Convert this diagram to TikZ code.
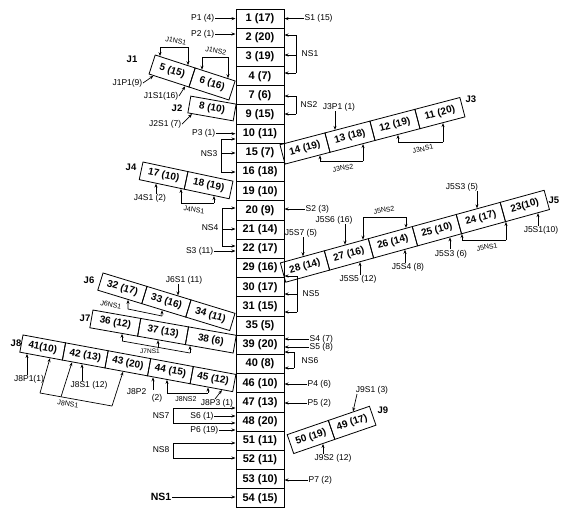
\documentclass[tikz,border=0pt]{standalone}
\usepackage{fontspec}
\setmainfont{Liberation Sans}
\usetikzlibrary{arrows.meta,calc}
\newcommand\varr[4]{\coordinate (vtmp) at (intersection of #1.#4 west--#1.#4 east and #2,0--#2,600);\draw[arr] (vtmp |- 0,#3) -- (vtmp);}
\begin{document}
\begin{tikzpicture}[x=1pt,y=-1pt,
  cbox/.style={draw,line width=1pt,minimum width=48pt,minimum height=19.19pt,inner sep=0pt,font=\fontsize{11}{12}\selectfont\bfseries},
  jbox/.style={draw,line width=0.8pt,inner sep=0pt,font=\fontsize{10}{11}\selectfont\bfseries},
  lbl/.style={inner sep=0.5pt,font=\fontsize{8.5}{9}\selectfont},
  slbl/.style={inner sep=0.5pt,font=\fontsize{7}{8}\selectfont},
  jl/.style={inner sep=0.5pt,font=\fontsize{9.5}{10}\selectfont\bfseries},
  arr/.style={-{Stealth[length=4pt,width=3pt]},line width=0.7pt},
  ln/.style={line width=0.7pt},
  sA/.style={jbox,rotate=-18,minimum width=42pt,minimum height=20pt},
  sB/.style={jbox,rotate=-10,minimum width=46pt,minimum height=17pt},
  sC/.style={jbox,rotate=14.7,minimum width=46.5pt,minimum height=20pt},
  sD/.style={jbox,rotate=-12,minimum width=46pt,minimum height=18pt},
  sE/.style={jbox,rotate=15.4,minimum width=45.6pt,minimum height=20pt},
  sF/.style={jbox,rotate=-17,minimum width=46pt,minimum height=18pt},
  sG/.style={jbox,rotate=-10,minimum width=48.5pt,minimum height=18pt},
  sH/.style={jbox,rotate=-10.5,minimum width=43.3pt,minimum height=17.5pt},
  sI/.style={jbox,rotate=19,minimum width=43.5pt,minimum height=20pt}]
\useasboundingbox (0,0) rectangle (561,512);
\fill[white] (0,0) rectangle (561,512);
% central column
\foreach \n/\t [count=\i from 0] in {1/1 (17),2/2 (20),3/3 (19),4/4 (7),7/7 (6),9/9 (15),10/10 (11),15/15 (7),16/16 (18),19/19 (10),20/20 (9),21/21 (14),22/22 (17),29/29 (16),30/30 (17),31/31 (15),35/35 (5),39/39 (20),40/40 (8),46/46 (10),47/47 (13),48/48 (20),51/51 (11),52/52 (11),53/53 (10),54/54 (15)}
  \node[cbox] (c\n) at (260,{18.6+19.19*\i}) {\t};
% strips
\node[sA] (b5) at (172.1,71) {5 (15)};
\node[sA] (b6) at ($(b5)+(-18:42pt)$) {6 (16)};
\node[sB] (b8) at (212,108.5) {8 (10)};
\node[sC] (b14) at (305,148.5) {14 (19)};
\node[sC] (b13) at ($(b14)+(14.7:46.5pt)$) {13 (18)};
\node[sC] (b12) at ($(b13)+(14.7:46.5pt)$) {12 (19)};
\node[sC] (b11) at ($(b12)+(14.7:46.5pt)$) {11 (20)};
\node[sD] (b17) at (163.6,175.6) {17 (10)};
\node[sD] (b18) at ($(b17)+(-12:46pt)$) {18 (19)};
\node[sE] (b28) at (305,266.5) {28 (14)};
\node[sE] (b27) at ($(b28)+(15.4:45.6pt)$) {27 (16)};
\node[sE] (b26) at ($(b27)+(15.4:45.6pt)$) {26 (14)};
\node[sE] (b25) at ($(b26)+(15.4:45.6pt)$) {25 (10)};
\node[sE] (b24) at ($(b25)+(15.4:45.6pt)$) {24 (17)};
\node[sE] (b23) at ($(b24)+(15.4:45.6pt)$) {23(10)};
\node[sF] (b32) at (122.4,288.3) {32 (17)};
\node[sF] (b33) at ($(b32)+(-17:46pt)$) {33 (16)};
\node[sF] (b34) at ($(b33)+(-17:46pt)$) {34 (11)};
\node[sG] (b36) at (115.3,323.1) {36 (12)};
\node[sG] (b37) at ($(b36)+(-10:48.5pt)$) {37 (13)};
\node[sG] (b38) at ($(b37)+(-10:48.5pt)$) {38 (6)};
\node[sH] (b41) at (42.7,347.5) {41(10)};
\node[sH] (b42) at ($(b41)+(-10.5:43.3pt)$) {42 (13)};
\node[sH] (b43) at ($(b42)+(-10.5:43.3pt)$) {43 (20)};
\node[sH] (b44) at ($(b43)+(-10.5:43.3pt)$) {44 (15)};
\node[sH] (b45) at ($(b44)+(-10.5:43.3pt)$) {45 (12)};
\node[sI] (b50) at (311,437) {50 (19)};
\node[sI] (b49) at ($(b50)+(19:43.5pt)$) {49 (17)};
% group labels
\node[jl,anchor=east] (lJ1) at (138,59) {J1};
\node[jl,anchor=east] (lJ2) at (183,108) {J2};
\node[jl,anchor=west] (lJ3) at (465,99) {J3};
\node[jl,anchor=east] (lJ4) at (137,167) {J4};
\node[jl,anchor=west] (lJ5) at (548,200) {J5};
\node[jl,anchor=east] (lJ6) at (95,280) {J6};
\node[jl,anchor=east] (lJ7) at (91,318) {J7};
\node[jl,anchor=east] (lJ8) at (22,343) {J8};
\node[jl,anchor=west] (lJ9) at (377,410) {J9};
% left inputs
\node[lbl,anchor=east] (p1) at (215,18.6) {P1 (4)};
\draw[arr] (p1.east) -- (c1.west |- p1.east);
\node[lbl,anchor=east] (p2) at (215,34) {P2 (1)};
\draw[arr] (p2.east) -- (c2.west |- p2.east);
\node[lbl,anchor=east] (p3) at (216,133.7) {P3 (1)};
\draw[arr] (p3.east) -- (c10.west |- p3.east);
\node[lbl,anchor=east] (s3) at (214,251) {S3 (11)};
\draw[arr] (s3.east) -- (c22.west |- s3.east);
\node[lbl,anchor=east] (ns3) at (218,154) {NS3};
\draw[ln] (221,139) -- (221,172);
\draw[arr] (221,139) -- (c10.west |- 0,139);
\draw[arr] (221,153) -- (c15.west |- 0,153);
\draw[arr] (221,172) -- (c16.west |- 0,172);
\node[lbl,anchor=east] (ns4) at (219,228) {NS4};
\draw[ln] (222,208) -- (222,246);
\draw[arr] (222,208) -- (c20.west |- 0,208);
\draw[arr] (222,229) -- (c21.west |- 0,229);
\draw[arr] (222,246) -- (c22.west |- 0,246);
% right inputs
\node[lbl,anchor=west] (s1) at (304,18.6) {S1 (15)};
\draw[arr] (s1.west) -- (c1.east |- s1.west);
\node[lbl,anchor=west] (ns1) at (301,54) {NS1};
\draw[ln] (296,35) -- (296,73);
\draw[arr] (296,35) -- (c2.east |- 0,35);
\draw[arr] (296,55) -- (c3.east |- 0,55);
\draw[arr] (296,73) -- (c4.east |- 0,73);
\node[lbl,anchor=west] (ns2) at (300,105) {NS2};
\draw[ln] (296,96) -- (296,114);
\draw[arr] (296,96) -- (c7.east |- 0,96);
\draw[arr] (296,114) -- (c9.east |- 0,114);
\node[lbl,anchor=west] (s2) at (305,209) {S2 (3)};
\draw[arr] (s2.west) -- (c20.east |- s2.west);
\node[lbl,anchor=west] (ns5) at (302,294) {NS5};
\draw[ln] (297,276) -- (297,312);
\draw[arr] (297,276) -- (c29.east |- 0,276);
\draw[arr] (297,294) -- (c30.east |- 0,294);
\draw[arr] (297,312) -- (c31.east |- 0,312);
\node[lbl,anchor=west] (s4) at (309,339) {S4 (7)};
\draw[arr] (s4.west) -- (c39.east |- s4.west);
\node[lbl,anchor=west] (s5) at (309,347) {S5 (8)};
\draw[arr] (s5.west) -- (c39.east |- s5.west);
\node[lbl,anchor=west] (ns6) at (301,361) {NS6};
\draw[ln] (294,352) -- (294,368);
\draw[arr] (294,352) -- (c39.east |- 0,352);
\draw[arr] (294,368) -- (c40.east |- 0,368);
\node[lbl,anchor=west] (p4) at (307,384) {P4 (6)};
\draw[arr] (p4.west) -- (c46.east |- p4.west);
\node[lbl,anchor=west] (p5) at (307,403) {P5 (2)};
\draw[arr] (p5.west) -- (c47.east |- p5.west);
\node[lbl,anchor=west] (p7) at (308,480) {P7 (2)};
\draw[arr] (p7.west) -- (c53.east |- p7.west);
% bottom left
\node[lbl,anchor=east] (ns7) at (170,416) {NS7};
\draw[ln] (173,423) -- (173,408);
\draw[arr] (173,408) -- (c47.west |- 0,408);
\draw[arr] (173,423) -- (c48.west |- 0,423);
\node[lbl] (s6) at (202,416) {S6 (1)};
\draw[arr] (s6.east) -- (c48.west |- s6.east);
\node[lbl,anchor=east] (p6) at (219,430) {P6 (19)};
\draw[arr] (p6.east) -- (c48.west |- p6.east);
\node[lbl,anchor=east] (ns8) at (170,450) {NS8};
\draw[ln] (173,443) -- (173,458);
\draw[arr] (173,443) -- (c51.west |- 0,443);
\draw[arr] (173,458) -- (c52.west |- 0,458);
\node[jl,anchor=east,font=\fontsize{10.5}{11}\selectfont\bfseries] (ns1b) at (172,497) {NS1};
\draw[arr,line width=1pt] (ns1b.east) -- (c54.west |- ns1b.east);
% J1
\node[slbl,rotate=-12] (j1ns1) at (176,41) {J1NS1};
\draw[ln] (160,47) -- (188,47);
\varr{b5}{160}{47}{north}
\varr{b5}{188}{47}{north}
\node[slbl,rotate=-12] (j1ns2) at (216,51) {J1NS2};
\draw[ln] (202,57) -- (228,57);
\varr{b6}{202}{57}{north}
\varr{b6}{228}{57}{north}
\node[lbl,anchor=east] (j1p1) at (143,83) {J1P1(9)};
\draw[arr] (j1p1.east) -- ($(b5.south west)!0.12!(b5.south east)$);
\node[lbl,anchor=east] (j1s1) at (179,96) {J1S1(16)};
\draw[arr] (j1s1.east) -- ($(b5.south west)!0.9!(b5.south east)$);
% J2
\node[lbl,anchor=east] (j2s1) at (182,124) {J2S1 (7)};
\draw[arr] (j2s1.east) -- ($(b8.south west)!0.1!(b8.south east)$);
% J3
\node[lbl] (j3p1) at (339,107) {J3P1 (1)};
\varr{b13}{335}{111}{north}
\node[slbl,rotate=12] (j3ns1) at (423,149) {J3NS1};
\draw[ln] (398,142) -- (443,142);
\varr{b12}{398}{142}{south}
\varr{b11}{443}{142}{south}
\node[slbl,rotate=10] (j3ns2) at (343,168) {J3NS2};
\draw[ln] (320,161) -- (363,161);
\varr{b14}{320}{161}{south}
\varr{b13}{363}{161}{south}
% J4
\node[lbl] (j4s1) at (150,198) {J4S1 (2)};
\varr{b17}{156}{194}{south}
\node[slbl,rotate=-8] (j4ns1) at (194,210) {J4NS1};
\draw[ln] (181,203) -- (214,203);
\varr{b17}{181}{203}{south}
\varr{b18}{214}{203}{south}
% J5
\node[lbl] (j5s7) at (301,233) {J5S7 (5)};
\varr{b28}{303}{237}{north}
\node[lbl] (j5s6) at (334,220) {J5S6 (16)};
\varr{b27}{345}{224}{north}
\node[slbl,rotate=10] (j5ns2) at (384,210) {J5NS2};
\draw[ln] (363,217) -- (406,217);
\varr{b27}{363}{217}{north}
\varr{b26}{406}{217}{north}
\node[lbl] (j5s3) at (462,187) {J5S3 (5)};
\varr{b24}{477}{191}{north}
\node[lbl] (j5s1) at (541,230) {J5S1(10)};
\varr{b23}{538}{226}{south}
\node[slbl,rotate=10] (j5ns1) at (487,247) {J5NS1};
\draw[ln] (462,240) -- (506,240);
\varr{b24}{462}{240}{south}
\varr{b23}{506}{240}{south}
\node[lbl] (j5s2) at (451,254) {J5S3 (6)};
\varr{b25}{450}{249}{south}
\node[lbl] (j5s4) at (408,267) {J5S4 (8)};
\varr{b26}{405}{263}{south}
\node[lbl] (j5s5) at (358,279) {J5S5 (12)};
\varr{b27}{360}{275}{south}
% J6
\node[lbl] (j6s1) at (184,280) {J6S1 (11)};
\varr{b33}{178}{284}{north}
\node[slbl,rotate=-12] (j6ns1) at (111,305) {J6NS1};
\draw[ln] (128,309) -- (162,316);
\coordinate (w1) at (intersection of b32.south west--b32.south east and 128,0--128,600);
\coordinate (w2) at (intersection of b33.south west--b33.south east and 162,0--162,600);
\draw[arr] (128,309) -- (w1);
\draw[arr] (162,316) -- (w2);
% J7
\node[inner sep=0.3pt,font=\fontsize{6.5}{7}\selectfont] (j7ns1) at (150,351) {J7NS1};
\draw[ln] (122,341) -- (190,353);
\coordinate (w3) at (intersection of b36.south west--b36.south east and 122,0--122,600);
\coordinate (w4) at (intersection of b37.south west--b37.south east and 158,0--158,600);
\coordinate (w5) at (intersection of b38.south west--b38.south east and 190,0--190,600);
\draw[arr] (122,341) -- (w3);
\draw[arr] (158,347.7) -- (w4);
\draw[arr] (190,353) -- (w5);
% J8
\node[lbl] (j8p1) at (29,379) {J8P1(1)};
\varr{b41}{27}{375}{south}
\node[lbl] (j8s1) at (89,385) {J8S1 (12)};
\varr{b42}{82}{381}{south}
\node[slbl,rotate=-10] (j8ns1) at (68,404) {J8NS1};
\draw[ln] (40,393) -- (112,406);
\coordinate (u1) at (intersection of b41.south west--b41.south east and 50,0--50,600);
\coordinate (u2) at (intersection of b42.south west--b42.south east and 72,0--72,600);
\coordinate (u3) at (intersection of b43.south west--b43.south east and 123,0--123,600);
\draw[arr] (40,393) -- (u1);
\draw[arr] (61,396.8) -- (u2);
\draw[arr] (112,406) -- (u3);
\node[lbl,anchor=east] (j8p2) at (147,392) {J8P2};
\node[lbl] (j8p2b) at (157,398) {(2)};
\varr{b44}{153}{390}{south}
\node[slbl] (j8ns2) at (186,399) {J8NS2};
\draw[ln] (167,393) -- (208,393);
\varr{b44}{167}{393}{south}
\varr{b45}{208}{393}{south}
\node[lbl] (j8p3) at (217,403) {J8P3 (1)};
\coordinate (u4) at (intersection of b45.south west--b45.south east and 222,0--222,600);
\draw[arr] (215,399) -- (u4);
% J9
\node[lbl] (j9s1) at (372,390) {J9S1 (3)};
\coordinate (u5) at (intersection of b49.north west--b49.north east and 353,0--353,600);
\draw[arr] (357,394) -- (u5);
\node[lbl] (j9s2) at (333,458) {J9S2 (12)};
\varr{b50}{323}{454}{south}
\end{tikzpicture}
\end{document}
